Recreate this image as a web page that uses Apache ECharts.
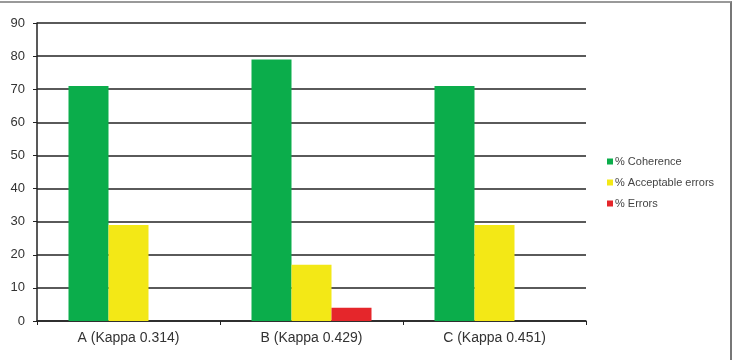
<!DOCTYPE html>
<html>
<head>
    <meta charset="UTF-8">
    <script src="https://cdn.jsdelivr.net/npm/echarts@6/dist/echarts.min.js"></script>
    <style>
        body { margin: 0; background: #fff; }
        #chart { width: 732px; height: 360px; }
        .frame { position: absolute; left: 0; top: 1px; width: 730px; height: 400px;
                 border-top: 2px solid #999; border-right: 2px solid #777; pointer-events: none; }
    </style>
</head>
<body>
    <div id="chart"></div>
    <div class="frame"></div>
    <script>
        var categories = ['A (Kappa 0.314)', 'B (Kappa 0.429)', 'C (Kappa 0.451)'];
        var coherence = [71, 79, 71];
        var acceptable = [29, 17, 29];
        var errors = [0, 4, 0];
        var seriesNames = ['% Coherence', '% Acceptable errors', '% Errors'];
        var colors = ['#0bad4b', '#f3e816', '#e5262b'];

        var chart = echarts.init(document.getElementById('chart'));
        var data = [coherence, acceptable, errors];

        chart.setOption({
            animation: false,
            color: colors,
            textStyle: { fontFamily: 'Liberation Sans, Arial, sans-serif' },
            grid: { left: 37, top: 23, right: 146, bottom: 39 },
            legend: {
                orient: 'vertical',
                left: 602,
                top: 151,
                itemWidth: 6,
                itemHeight: 6,
                itemGap: 10,
                icon: 'rect',
                textStyle: { fontSize: 11, color: '#444', padding: [0, 0, 0, -3] },
                data: seriesNames
            },
            xAxis: {
                type: 'category',
                data: categories,
                axisLine: { lineStyle: { color: '#222', width: 1.5 } },
                axisTick: { show: true, length: 4, lineStyle: { color: '#222' } },
                axisLabel: { color: '#333', fontSize: 14, margin: 10 }
            },
            yAxis: {
                type: 'value',
                min: 0,
                max: 90,
                interval: 10,
                axisLine: { show: true, lineStyle: { color: '#222', width: 1.5 } },
                axisTick: { show: true, length: 4, lineStyle: { color: '#222' } },
                axisLabel: { color: '#333', fontSize: 13, margin: 12 },
                splitLine: { lineStyle: { color: '#5a5a5a', width: 2 } }
            },
            series: seriesNames.map(function (name, i) {
                return {
                    name: name,
                    type: 'bar',
                    data: data[i],
                    barWidth: 40,
                    barGap: '0%',
                    itemStyle: { color: colors[i] }
                };
            })
        });
    </script>
</body>
</html>
